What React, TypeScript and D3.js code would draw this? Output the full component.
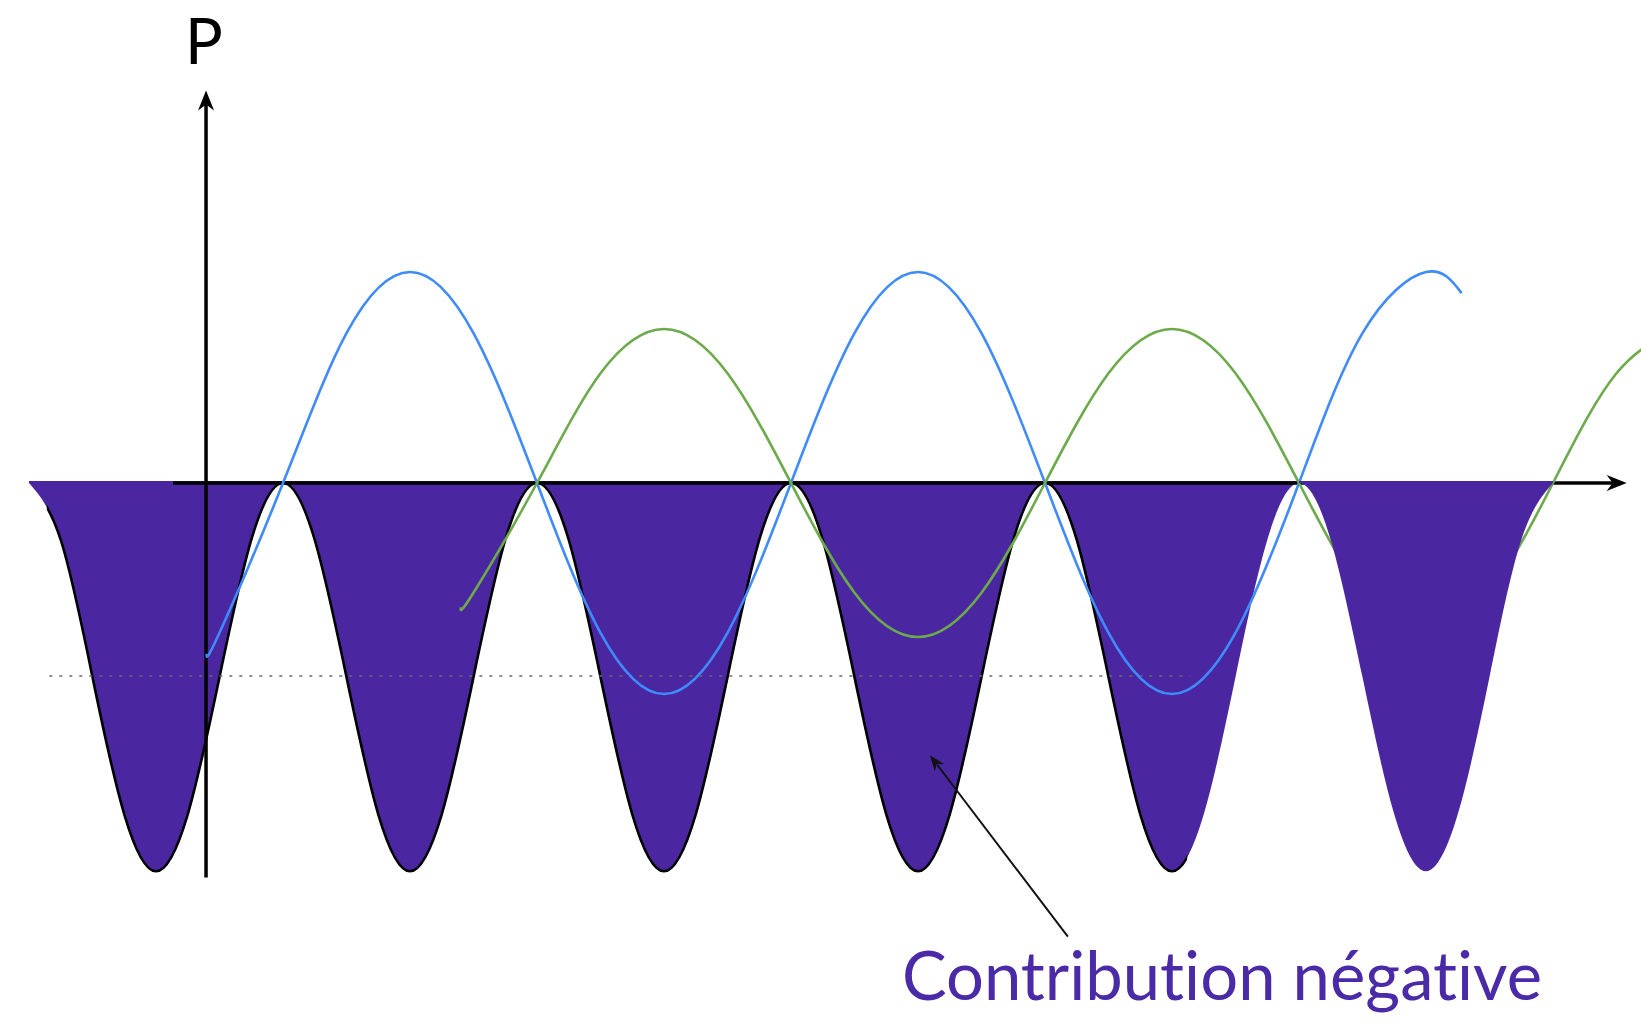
import React from "react";
import * as d3 from "d3";

// ---- data (t: half-periods of the blue wave, v: amplitude of the blue wave = 1) ----
const blueT = [0.70, 0.75, 1.00, 1.25, 1.50, 1.75, 2.00, 2.25, 2.50, 2.75, 3.00, 3.25, 3.50, 3.75, 4.00, 4.25, 4.50, 4.75, 5.00, 5.25, 5.50, 5.64];
const blueV = [-0.81, -0.71, 0, 0.71, 1, 0.71, 0, -0.71, -1, -0.71, 0, 0.71, 1, 0.71, 0, -0.71, -1, -0.71, 0, 0.71, 1, 0.90];

const greenT = [1.70, 1.75, 2.00, 2.25, 2.50, 2.75, 3.00, 3.25, 3.50, 3.75, 4.00, 4.25, 4.50, 4.75, 5.00, 5.25, 5.50, 5.75, 6.00, 6.25, 6.50];
const greenV = [-0.59, -0.52, 0, 0.52, 0.73, 0.52, 0, -0.52, -0.73, -0.52, 0, 0.52, 0.73, 0.52, 0, -0.52, -0.73, -0.52, 0, 0.52, 0.73];

const purpleT = [
  0, 0.125, 0.25, 0.375, 0.5, 0.625, 0.75, 0.875,
  1, 1.125, 1.25, 1.375, 1.5, 1.625, 1.75, 1.875,
  2, 2.125, 2.25, 2.375, 2.5, 2.625, 2.75, 2.875,
  3, 3.125, 3.25, 3.375, 3.5, 3.625, 3.75, 3.875,
  4, 4.125, 4.25, 4.375, 4.5, 4.625, 4.75, 4.875,
  5, 5.125, 5.25, 5.375, 5.5, 5.625, 5.75, 5.875,
  6,
];
const purpleV = [
  0, -0.27, -0.92, -1.57, -1.84, -1.57, -0.92, -0.27,
  0, -0.27, -0.92, -1.57, -1.84, -1.57, -0.92, -0.27,
  0, -0.27, -0.92, -1.57, -1.84, -1.57, -0.92, -0.27,
  0, -0.27, -0.92, -1.57, -1.84, -1.57, -0.92, -0.27,
  0, -0.27, -0.92, -1.57, -1.84, -1.57, -0.92, -0.27,
  0, -0.27, -0.92, -1.57, -1.84, -1.57, -0.92, -0.27,
  0,
];

// outlined part of the product curve, and the last (un-outlined, on top) lobe
const outlineRange = [0.07, 4.56];
const lastLobeStart = 5;

// dotted reference level
const dottedLevel = -0.915;
const dottedRange = [0.08, 4.57];

// axes extents
const xAxisRange = [0.567, 6.29];
const yAxisT = 0.697;
const yAxisRange = [-1.87, 1.86];

// labels
const axisLabel = "P";
const axisLabelPos = [0.689, 1.985];
const annotationText = "Contribution négative";
const annotationTextPos = [3.437, -2.45];
const annotationArrow = [[4.09, -2.15], [3.547, -1.29]];

const W = 1641;
const H = 1023;

export default function App() {
  const x = d3.scaleLinear().domain([0, 6]).range([29, 1553]);
  const y = d3.scaleLinear().domain([0, 1]).range([483, 272]);

  const purplePts: [number, number][] = purpleT.map((t, i) => [t, purpleV[i]]);
  const bluePts: [number, number][] = blueT.map((t, i) => [t, blueV[i]]);
  const greenPts: [number, number][] = greenT.map((t, i) => [t, greenV[i]]);

  const area = d3
    .area<[number, number]>()
    .x((d) => x(d[0]))
    .y0(() => y(0) - 2)
    .y1((d) => y(d[1]))
    .curve(d3.curveNatural);
  const line = d3
    .line<[number, number]>()
    .x((d) => x(d[0]))
    .y((d) => y(d[1]))
    .curve(d3.curveNatural);

  const purplePath = area(purplePts) || "";
  const outlinePath = line(purplePts) || "";
  const bluePath = line(bluePts) || "";
  const greenPath = line(greenPts) || "";

  const purple = "#4A27A0";
  const blue = "#3F8BFA";
  const green = "#6CAA4B";

  // axes geometry
  const ax0 = x(xAxisRange[0]);
  const ax1 = x(xAxisRange[1]);
  const ay = y(0);
  const yx = x(yAxisT);
  const yTop = y(yAxisRange[1]);
  const yBot = y(yAxisRange[0]);

  const [tailT, tailV] = annotationArrow[0];
  const [tipT, tipV] = annotationArrow[1];
  const tx = x(tipT), ty = y(tipV), sx = x(tailT), sy = y(tailV);
  const ang = Math.atan2(ty - sy, tx - sx);
  const hl = 16, hw = 6;
  const bx = tx - hl * Math.cos(ang), by = ty - hl * Math.sin(ang);
  const headPts = [
    [tx, ty],
    [bx + hw * Math.sin(ang), by - hw * Math.cos(ang)],
    [tx - hl * 0.7 * Math.cos(ang), ty - hl * 0.7 * Math.sin(ang)],
    [bx - hw * Math.sin(ang), by + hw * Math.cos(ang)],
  ];

  const textStyle: React.CSSProperties = {
    fontVariantLigatures: "none",
    fontFeatureSettings: '"liga" 0, "clig" 0',
  };

  return (
    <svg
      width={W}
      height={H}
      viewBox={`0 0 ${W} ${H}`}
      style={{ position: "absolute", left: 0, top: 0, background: "#fff" }}
    >
      <defs>
        <clipPath id="mainClip">
          <rect x={0} y={0} width={x(lastLobeStart)} height={H} />
        </clipPath>
        <clipPath id="lastClip">
          <rect x={x(lastLobeStart)} y={0} width={W - x(lastLobeStart)} height={H} />
        </clipPath>
        <clipPath id="outlineClip">
          <rect x={x(outlineRange[0])} y={0} width={x(outlineRange[1]) - x(outlineRange[0])} height={H} />
        </clipPath>
      </defs>
      <rect x={0} y={0} width={W} height={H} fill="#fff" />

      {/* product (purple) lobes */}
      <path d={purplePath} fill={purple} clipPath="url(#mainClip)" />
      <path d={outlinePath} fill="none" stroke="#000" strokeWidth={2.6} clipPath="url(#outlineClip)" />

      {/* dotted level */}
      <line
        x1={x(dottedRange[0])}
        x2={x(dottedRange[1])}
        y1={y(dottedLevel)}
        y2={y(dottedLevel)}
        stroke="#6a6a6a"
        strokeWidth={1.6}
        strokeDasharray="3 7"
      />

      {/* axes */}
      <line x1={ax0} x2={ax1 - 10} y1={ay} y2={ay} stroke="#000" strokeWidth={3.5} />
      <path
        d={`M${ax1},${ay} L${ax1 - 20},${ay - 8} L${ax1 - 14},${ay} L${ax1 - 20},${ay + 8} Z`}
        fill="#000"
      />
      <line x1={yx} x2={yx} y1={yBot} y2={yTop + 10} stroke="#000" strokeWidth={3.5} />
      <path
        d={`M${yx},${yTop} L${yx - 8},${yTop + 20} L${yx},${yTop + 14} L${yx + 8},${yTop + 20} Z`}
        fill="#000"
      />

      {/* waves */}
      <path d={bluePath} fill="none" stroke={blue} strokeWidth={2.6} />
      <path d={greenPath} fill="none" stroke={green} strokeWidth={2.6} />

      {/* last lobe drawn on top */}
      <path d={purplePath} fill={purple} clipPath="url(#lastClip)" />

      {/* labels */}
      <text
        x={x(axisLabelPos[0])}
        y={y(axisLabelPos[1])}
        textAnchor="middle"
        fontFamily="Lato, 'Open Sans', sans-serif"
        fontSize={63}
        fill="#000"
        style={textStyle}
      >
        {axisLabel}
      </text>

      <line x1={sx} y1={sy} x2={bx + 4 * Math.cos(ang)} y2={by + 4 * Math.sin(ang)} stroke="#111" strokeWidth={2} />
      <path d={`M${headPts.map((p) => p.join(",")).join(" L")} Z`} fill="#111" />

      <text
        x={x(annotationTextPos[0])}
        y={y(annotationTextPos[1])}
        fontFamily="Lato, 'Open Sans', sans-serif"
        fontSize={67}
        fill="#4B2AA8"
        textLength={640}
        lengthAdjust="spacingAndGlyphs"
        style={textStyle}
      >
        {annotationText}
      </text>
    </svg>
  );
}
